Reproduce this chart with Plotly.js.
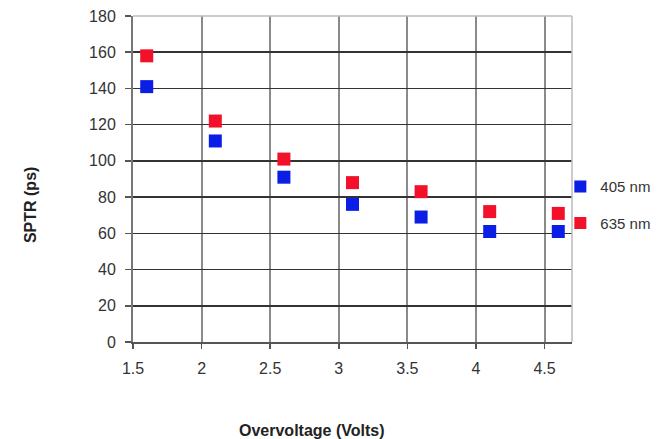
<!DOCTYPE html>
<html><head><meta charset="utf-8">
<script src="https://cdn.plot.ly/plotly-3.0.1.min.js"></script>
<style>html,body{margin:0;padding:0;background:#fff}#chart{width:660px;height:439px}</style>
</head><body><div id="chart"></div>
<script>
const overvoltage = [1.6, 2.1, 2.6, 3.1, 3.6, 4.1, 4.6];
const sptr405 = [141, 111, 91, 76, 69, 61, 61];
const sptr635 = [158, 122, 101, 88, 83, 72, 71];
const seriesNames = ['405 nm', '635 nm'];
const xTicks = [1.5, 2, 2.5, 3, 3.5, 4, 4.5];
const yTicks = [0, 20, 40, 60, 80, 100, 120, 140, 160, 180];
const xTitle = 'Overvoltage (Volts)';
const yTitle = 'SPTR (ps)';

const traces = [
  {x: overvoltage, y: sptr405, name: seriesNames[0], legendgroup: 'a', type: 'scatter', mode: 'markers',
   marker: {symbol: 'square', size: 13, color: '#0a1ee6'}},
  {x: overvoltage, y: sptr635, name: seriesNames[1], legendgroup: 'b', type: 'scatter', mode: 'markers',
   marker: {symbol: 'square', size: 13, color: '#f2102a'}}
];

const layout = {
  width: 660, height: 439,
  margin: {l: 133, r: 88, t: 16, b: 97, autoexpand: false},
  paper_bgcolor: '#fff', plot_bgcolor: '#fff',
  font: {family: 'Liberation Sans, Arial, sans-serif', size: 16, color: '#333'},
  showlegend: true,
  legend: {xref: 'container', yref: 'container', x: 0.849, y: 0.612, xanchor: 'left', yanchor: 'top',
           tracegroupgap: 14, itemsizing: 'constant',
           font: {size: 15, color: '#333'}, itemwidth: 30, bgcolor: 'rgba(0,0,0,0)'},
  xaxis: {range: [1.5, 4.7], tickvals: xTicks, ticktext: xTicks.map(String),
          showgrid: true, gridcolor: '#8a8a8a', gridwidth: 2,
          ticks: 'outside', ticklen: 5, tickcolor: '#555', tickwidth: 1.5,
          ticklabelstandoff: 6, automargin: false,
          showline: true, linecolor: '#555', linewidth: 1.5, mirror: false, zeroline: false,
          tickfont: {size: 16, color: '#333'}},
  yaxis: {range: [0, 180], tickvals: yTicks, ticktext: yTicks.map(String),
          showgrid: true, gridcolor: '#333', gridwidth: 1.5,
          ticks: 'outside', ticklen: 6, tickcolor: '#555', tickwidth: 1.5,
          ticklabelstandoff: 6, automargin: false,
          showline: true, linecolor: '#777', linewidth: 2, zeroline: false,
          tickfont: {size: 16, color: '#333'}},
  annotations: [
    {text: '<b>' + xTitle + '</b>', xref: 'paper', yref: 'paper', x: 0.408, y: -0.27,
     xanchor: 'center', yanchor: 'middle',
     showarrow: false, font: {size: 16, color: '#222'}},
    {text: '<b>' + yTitle + '</b>', xref: 'paper', yref: 'paper', x: -0.2346, y: 0.42,
     xanchor: 'center', yanchor: 'middle',
     showarrow: false, textangle: -90, font: {size: 16, color: '#222'}}
  ],
  shapes: [
    {type: 'line', xref: 'paper', yref: 'paper', x0: 0, x1: 1, y0: 1, y1: 1, line: {color: '#bbb', width: 1.5}},
    {type: 'line', xref: 'paper', yref: 'paper', x0: 1, x1: 1, y0: 0, y1: 1, line: {color: '#bbb', width: 1.5}}
  ]
};
Plotly.newPlot('chart', traces, layout, {displayModeBar: false, staticPlot: true});
</script></body></html>
